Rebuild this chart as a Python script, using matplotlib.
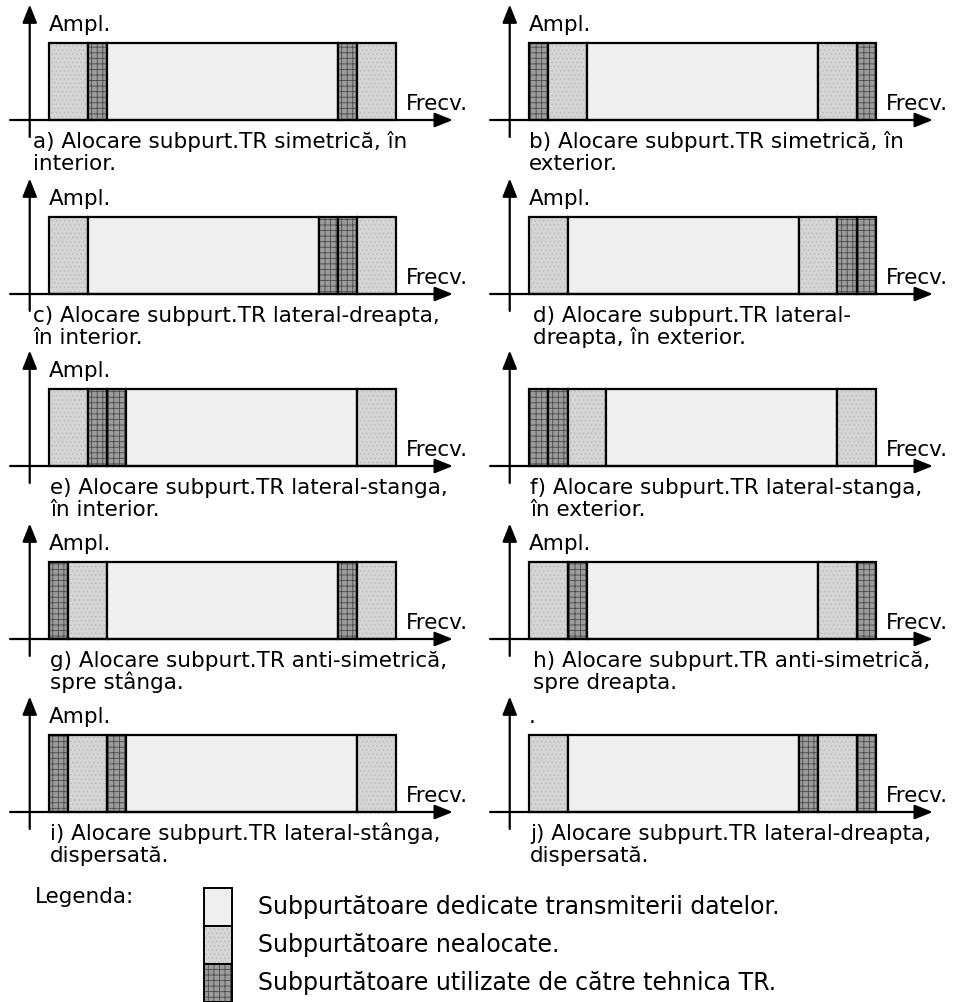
"""Subcarrier allocation diagrams for the TR technique (10 panels + legend)."""

import matplotlib
matplotlib.use("Agg")
import matplotlib.pyplot as plt
import numpy as np

plt.rcParams['font.family'] = ['DejaVu Sans']
plt.rcParams['hatch.linewidth'] = 0.6

# block sequence of every panel: D = data, N = unallocated, T = used by TR
panel_kinds = [
    ['N', 'T', 'D', 'T', 'N'],  # a
    ['T', 'N', 'D', 'N', 'T'],  # b
    ['N', 'D', 'T', 'T', 'N'],  # c
    ['N', 'D', 'N', 'T', 'T'],  # d
    ['N', 'T', 'T', 'D', 'N'],  # e
    ['T', 'T', 'N', 'D', 'N'],  # f
    ['T', 'N', 'D', 'T', 'N'],  # g
    ['N', 'T', 'D', 'N', 'T'],  # h
    ['T', 'N', 'T', 'D', 'N'],  # i
    ['N', 'D', 'T', 'N', 'T'],  # j
]
# width of one block of each kind, in subcarrier-group units
kind_width = {'D': 12, 'N': 2, 'T': 1}

captions = [
    ['a) Alocare subpurt.TR simetrică, în', 'interior.'],
    ['b) Alocare subpurt.TR simetrică, în', 'exterior.'],
    ['c) Alocare subpurt.TR lateral-dreapta,', 'în interior.'],
    ['d) Alocare subpurt.TR lateral-', 'dreapta, în exterior.'],
    ['e) Alocare subpurt.TR lateral-stanga,', 'în interior.'],
    ['f) Alocare subpurt.TR lateral-stanga,', 'în exterior.'],
    ['g) Alocare subpurt.TR anti-simetrică,', 'spre stânga.'],
    ['h) Alocare subpurt.TR anti-simetrică,', 'spre dreapta.'],
    ['i) Alocare subpurt.TR lateral-stânga,', 'dispersată.'],
    ['j) Alocare subpurt.TR lateral-dreapta,', 'dispersată.'],
]
y_labels = ['Ampl.', 'Ampl.', 'Ampl.', 'Ampl.', 'Ampl.', '', 'Ampl.', 'Ampl.', 'Ampl.', '.']
x_label = 'Frecv.'

legend_title = 'Legenda:'
legend_kinds = ['D', 'N', 'T']
legend_labels = [
    'Subpurtătoare dedicate transmiterii datelor.',
    'Subpurtătoare nealocate.',
    'Subpurtătoare utilizate de către tehnica TR.',
]

# styles
fills = {'D': '#efefef', 'N': '#d5d5d5', 'T': '#9c9c9c'}
hatches = {'D': '', 'N': '....', 'T': '+++'}
hatch_cols = {'D': '#e4e4e4', 'N': '#bcbcbc', 'T': '#4a4a4a'}
FS = 15.5
FS_LEG = 17

W, H = 954, 1002
fig = plt.figure(figsize=(W / 100, H / 100), dpi=100)

ppu = 347 / 18          # px per unit along frequency
box_h = 77              # px per unit of amplitude
col_box_left = [49, 529]
row_axis_y = [120, 294, 466, 639, 812]
cap_x = [-0.83, 0.0, -0.83, 0.2, 0.05, 0.05, 0.05, 0.2, 0.05, 0.05]

arrow = dict(arrowstyle='-|>,head_length=0.55,head_width=0.22', lw=1.6,
             color='k', mutation_scale=20, shrinkA=0, shrinkB=0)


def draw_block(ax, left, width, kind, lw=1.6):
    ax.bar(left, 1, width=width, align='edge', color=fills[kind],
           edgecolor=hatch_cols[kind], hatch=hatches[kind], lw=0, clip_on=False)
    ax.bar(left, 1, width=width, align='edge', fill=False,
           edgecolor='k', lw=lw, clip_on=False)


for i, kinds in enumerate(panel_kinds):
    r, c = divmod(i, 2)
    x0, x1, y0, y1 = -2.5, 22.5, -0.75, 1.6
    left = col_box_left[c] + x0 * ppu
    bottom = row_axis_y[r] - y0 * box_h
    ax = fig.add_axes([left / W, 1 - bottom / H,
                       (x1 - x0) * ppu / W, (y1 - y0) * box_h / H])
    ax.set_xlim(x0, x1)
    ax.set_ylim(y0, y1)
    ax.axis('off')

    widths = np.array([kind_width[k] for k in kinds])
    lefts = np.concatenate([[0], np.cumsum(widths)[:-1]])
    for lft, w, k in zip(lefts, widths, kinds):
        draw_block(ax, lft, w, k)

    ax.annotate('', xy=(-1, 1.5), xytext=(-1, -0.22), arrowprops=arrow)
    ax.annotate('', xy=(20.95, 0), xytext=(-2.02, 0), arrowprops=arrow)
    ax.text(0, 1.24, y_labels[i], fontsize=FS, va='center', ha='left')
    ax.text(18.5, 0.21, x_label, fontsize=FS, va='center', ha='left')
    ax.text(cap_x[i], -0.36, captions[i][0], fontsize=FS, va='baseline', ha='left')
    ax.text(cap_x[i], -0.645, captions[i][1], fontsize=FS, va='baseline', ha='left')

# legend, in pixel coordinates
lax = fig.add_axes([0, 0, 1, 1])
lax.set_xlim(0, W)
lax.set_ylim(H, 0)
lax.axis('off')
lax.text(35, 897, legend_title, fontsize=FS, va='center', ha='left')
sw_top, sw_h = 888, 38
for j, (k, lab) in enumerate(zip(legend_kinds, legend_labels)):
    top = sw_top + j * sw_h
    lax.bar(204, sw_h, width=28, bottom=top, align='edge', color=fills[k],
            edgecolor=hatch_cols[k], hatch=hatches[k], lw=0, clip_on=False)
    lax.bar(204, sw_h, width=28, bottom=top, align='edge', fill=False,
            edgecolor='k', lw=1.4, clip_on=False)
    lax.text(258, top + sw_h / 2, lab, fontsize=FS_LEG, va='center', ha='left')

fig.savefig('out.png', dpi=100)
